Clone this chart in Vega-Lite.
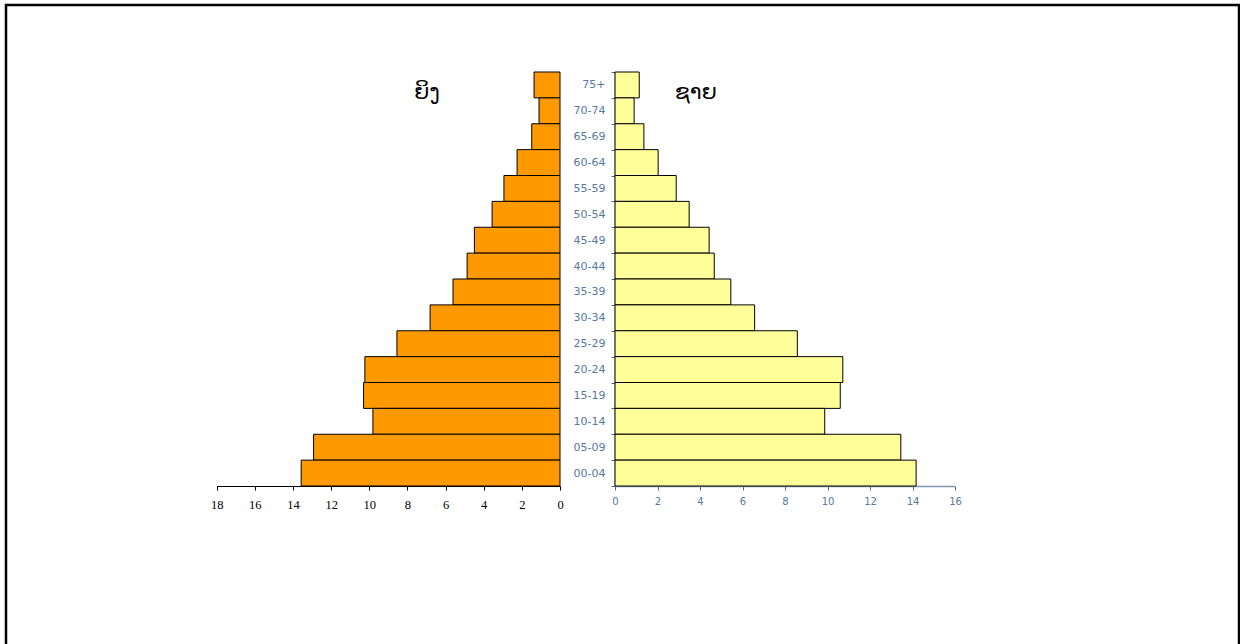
{
  "$schema": "https://vega.github.io/schema/vega-lite/v6.json",
  "width": 1233,
  "height": 644,
  "autosize": "none",
  "padding": {"left": 6, "top": 5, "right": 1, "bottom": -5},
  "background": "white",
  "config": {"view": {"stroke": "black", "strokeWidth": 2.5}},
  "datasets": {
    "pop": [
      {"age": "75+", "female": 1.36, "male": 1.14},
      {"age": "70-74", "female": 1.10, "male": 0.90},
      {"age": "65-69", "female": 1.48, "male": 1.36},
      {"age": "60-64", "female": 2.25, "male": 2.03},
      {"age": "55-59", "female": 2.94, "male": 2.88},
      {"age": "50-54", "female": 3.56, "male": 3.49},
      {"age": "45-49", "female": 4.49, "male": 4.43},
      {"age": "40-44", "female": 4.87, "male": 4.67},
      {"age": "35-39", "female": 5.61, "male": 5.45},
      {"age": "30-34", "female": 6.81, "male": 6.57},
      {"age": "25-29", "female": 8.55, "male": 8.58},
      {"age": "20-24", "female": 10.23, "male": 10.72},
      {"age": "15-19", "female": 10.30, "male": 10.60},
      {"age": "10-14", "female": 9.81, "male": 9.87},
      {"age": "05-09", "female": 12.92, "male": 13.45},
      {"age": "00-04", "female": 13.57, "male": 14.17}
    ],
    "titles": [
      {"label": "ຍິງ", "side": "female", "age": "75+", "pos": 6.97},
      {"label": "ຊາຍ", "side": "male", "age": "75+", "pos": 3.8}
    ]
  },
  "encoding": {
    "y": {
      "field": "age",
      "type": "nominal",
      "sort": ["75+", "70-74", "65-69", "60-64", "55-59", "50-54", "45-49", "40-44", "35-39", "30-34", "25-29", "20-24", "15-19", "10-14", "05-09", "00-04"],
      "scale": {"range": [67, 481], "paddingInner": 0, "paddingOuter": 0},
      "axis": {
        "orient": "left",
        "offset": -609,
        "title": null,
        "tickBand": "extent",
        "tickSize": 4,
        "tickColor": "#4c6a88",
        "domainColor": "#4c6a88",
        "domainWidth": 1.5,
        "labelFont": "DejaVu Sans",
        "labelFontSize": 11,
        "labelColor": "#56799e",
        "labelPadding": 6,
        "grid": false
      }
    }
  },
  "resolve": {"scale": {"x": "independent"}, "axis": {"x": "independent"}},
  "layer": [
    {
      "layer": [
        {
          "data": {"name": "pop"},
          "mark": {"type": "bar", "fill": "#FF9900", "stroke": "black", "strokeWidth": 1},
          "encoding": {
            "x": {
              "field": "female",
              "type": "quantitative",
              "scale": {"domain": [0, 18], "range": [554, 210.7], "nice": false},
              "axis": {
                "orient": "bottom",
                "offset": -163,
                "values": [0, 2, 4, 6, 8, 10, 12, 14, 16, 18],
                "format": "d",
                "labelFlush": false,
                "labelOverlap": false,
                "title": null,
                "grid": false,
                "domainColor": "black",
                "tickColor": "black",
                "tickSize": 4,
                "labelFont": "Liberation Serif",
                "labelFontSize": 12.5,
                "labelColor": "black",
                "labelPadding": 8
              }
            }
          }
        },
        {
          "data": {"name": "titles"},
          "transform": [{"filter": "datum.side === 'female'"}],
          "mark": {"type": "text", "font": "DejaVu Sans", "fontSize": 22, "color": "black", "align": "center", "baseline": "middle"},
          "encoding": {
            "x": {"field": "pos", "type": "quantitative"},
            "y": {"field": "age", "type": "nominal", "bandPosition": 0.77},
            "text": {"field": "label"}
          }
        }
      ]
    },
    {
      "layer": [
        {
          "data": {"name": "pop"},
          "mark": {"type": "bar", "fill": "#FFFF99", "stroke": "black", "strokeWidth": 1},
          "encoding": {
            "x": {
              "field": "male",
              "type": "quantitative",
              "scale": {"domain": [0, 16], "range": [609, 949], "nice": false},
              "axis": {
                "orient": "bottom",
                "offset": -163,
                "values": [0, 2, 4, 6, 8, 10, 12, 14, 16],
                "format": "d",
                "labelFlush": false,
                "labelOverlap": false,
                "title": null,
                "grid": false,
                "domainColor": "#7f97b0",
                "domainWidth": 1.5,
                "tickColor": "#4c6a88",
                "tickSize": 4,
                "labelFont": "DejaVu Sans",
                "labelFontSize": 10,
                "labelColor": "#56799e",
                "labelPadding": 6
              }
            }
          }
        },
        {
          "data": {"name": "titles"},
          "transform": [{"filter": "datum.side === 'male'"}],
          "mark": {"type": "text", "font": "DejaVu Sans", "fontSize": 22, "color": "black", "align": "center", "baseline": "middle"},
          "encoding": {
            "x": {"field": "pos", "type": "quantitative"},
            "y": {"field": "age", "type": "nominal", "bandPosition": 0.77},
            "text": {"field": "label"}
          }
        }
      ]
    }
  ]
}
